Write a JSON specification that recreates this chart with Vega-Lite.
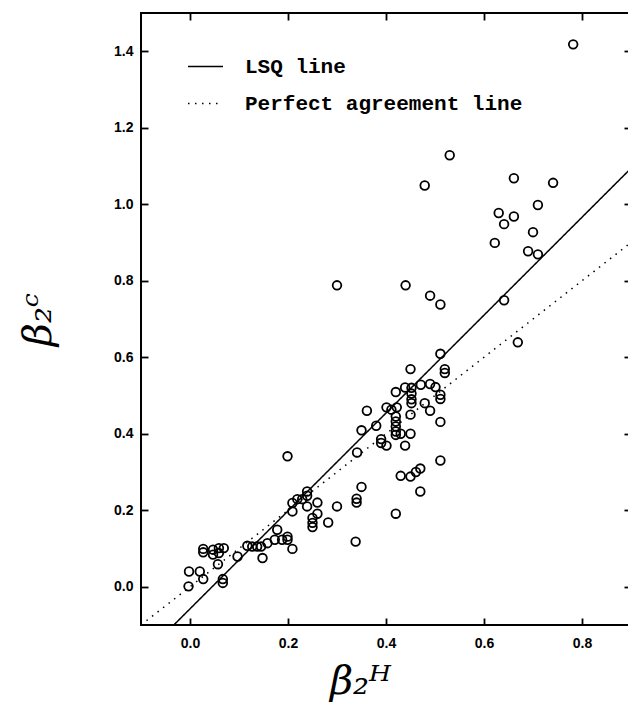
{
  "$schema": "https://vega.github.io/schema/vega-lite/v6.json",
  "autosize": "none",
  "width": 490,
  "height": 612,
  "padding": {"left": 141, "top": 13, "right": 0, "bottom": 88},
  "background": "white",
  "config": {
    "view": {"stroke": "black", "strokeWidth": 2},
    "axis": {
      "grid": false,
      "domain": false,
      "ticks": true,
      "tickColor": "black",
      "tickOpacity": 1,
      "tickWidth": 1.8,
      "tickSize": 7,
      "offset": -7,
      "labelColor": "black",
      "labelFont": "Liberation Sans",
      "labelFontWeight": "bold",
      "labelFontSize": 14,
      "titleColor": "black"
    }
  },
  "layer": [
    {
      "data": {"values": [
        {"h": -0.003, "c": 0.001}, {"h": -0.002, "c": 0.040}, {"h": 0.020, "c": 0.040}, {"h": 0.027, "c": 0.020},
        {"h": 0.027, "c": 0.099}, {"h": 0.027, "c": 0.090}, {"h": 0.047, "c": 0.097}, {"h": 0.047, "c": 0.084},
        {"h": 0.059, "c": 0.101}, {"h": 0.069, "c": 0.101}, {"h": 0.059, "c": 0.088}, {"h": 0.057, "c": 0.059},
        {"h": 0.067, "c": 0.020}, {"h": 0.067, "c": 0.010}, {"h": 0.097, "c": 0.079}, {"h": 0.117, "c": 0.107},
        {"h": 0.127, "c": 0.105}, {"h": 0.137, "c": 0.105}, {"h": 0.145, "c": 0.105}, {"h": 0.148, "c": 0.075},
        {"h": 0.158, "c": 0.114}, {"h": 0.173, "c": 0.123}, {"h": 0.178, "c": 0.149}, {"h": 0.188, "c": 0.123},
        {"h": 0.199, "c": 0.131}, {"h": 0.199, "c": 0.123}, {"h": 0.209, "c": 0.099}, {"h": 0.199, "c": 0.341},
        {"h": 0.209, "c": 0.219}, {"h": 0.209, "c": 0.197}, {"h": 0.219, "c": 0.229}, {"h": 0.229, "c": 0.229},
        {"h": 0.239, "c": 0.249}, {"h": 0.239, "c": 0.238}, {"h": 0.239, "c": 0.210}, {"h": 0.250, "c": 0.180},
        {"h": 0.250, "c": 0.167}, {"h": 0.250, "c": 0.156}, {"h": 0.260, "c": 0.220}, {"h": 0.260, "c": 0.191},
        {"h": 0.282, "c": 0.168}, {"h": 0.300, "c": 0.210}, {"h": 0.300, "c": 0.788}, {"h": 0.338, "c": 0.118},
        {"h": 0.340, "c": 0.230}, {"h": 0.340, "c": 0.220}, {"h": 0.341, "c": 0.351}, {"h": 0.350, "c": 0.261},
        {"h": 0.350, "c": 0.409}, {"h": 0.361, "c": 0.460}, {"h": 0.380, "c": 0.421}, {"h": 0.390, "c": 0.386},
        {"h": 0.390, "c": 0.376}, {"h": 0.401, "c": 0.369}, {"h": 0.401, "c": 0.469}, {"h": 0.411, "c": 0.463},
        {"h": 0.420, "c": 0.191}, {"h": 0.420, "c": 0.509}, {"h": 0.420, "c": 0.445}, {"h": 0.420, "c": 0.432},
        {"h": 0.420, "c": 0.419}, {"h": 0.420, "c": 0.406}, {"h": 0.420, "c": 0.397}, {"h": 0.422, "c": 0.469},
        {"h": 0.430, "c": 0.400}, {"h": 0.430, "c": 0.290}, {"h": 0.439, "c": 0.521}, {"h": 0.439, "c": 0.369},
        {"h": 0.440, "c": 0.788}, {"h": 0.450, "c": 0.569}, {"h": 0.450, "c": 0.450}, {"h": 0.450, "c": 0.400},
        {"h": 0.450, "c": 0.288}, {"h": 0.452, "c": 0.520}, {"h": 0.452, "c": 0.505}, {"h": 0.452, "c": 0.490},
        {"h": 0.452, "c": 0.480}, {"h": 0.461, "c": 0.300}, {"h": 0.470, "c": 0.309}, {"h": 0.470, "c": 0.249},
        {"h": 0.471, "c": 0.528}, {"h": 0.479, "c": 0.480}, {"h": 0.479, "c": 1.049}, {"h": 0.490, "c": 0.530},
        {"h": 0.490, "c": 0.460}, {"h": 0.490, "c": 0.761}, {"h": 0.501, "c": 0.522}, {"h": 0.511, "c": 0.738},
        {"h": 0.511, "c": 0.609}, {"h": 0.511, "c": 0.502}, {"h": 0.511, "c": 0.491}, {"h": 0.511, "c": 0.431},
        {"h": 0.511, "c": 0.330}, {"h": 0.520, "c": 0.569}, {"h": 0.520, "c": 0.559}, {"h": 0.530, "c": 1.128},
        {"h": 0.622, "c": 0.899}, {"h": 0.630, "c": 0.977}, {"h": 0.641, "c": 0.948}, {"h": 0.641, "c": 0.749},
        {"h": 0.661, "c": 1.068}, {"h": 0.661, "c": 0.968}, {"h": 0.669, "c": 0.639}, {"h": 0.690, "c": 0.877},
        {"h": 0.700, "c": 0.927}, {"h": 0.710, "c": 0.998}, {"h": 0.710, "c": 0.869}, {"h": 0.741, "c": 1.056},
        {"h": 0.782, "c": 1.418}
      ]},
      "mark": {"type": "point", "shape": "circle", "filled": false, "color": "black", "size": 75, "strokeWidth": 1.8, "opacity": 1},
      "encoding": {
        "x": {
          "field": "h", "type": "quantitative",
          "scale": {"domain": [-0.1, 0.9], "nice": false, "zero": false},
          "axis": {
            "orient": "bottom", "values": [0, 0.2, 0.4, 0.6, 0.8], "format": ".1f",
            "labelPadding": 11,
            "title": "β₂ᴴ", "titleFont": "DejaVu Serif", "titleFontSize": 40, "titleFontWeight": "normal", "titleFontStyle": "italic",
            "titleX": 219, "titleY": 75, "titleAlign": "center", "titleBaseline": "alphabetic"
          }
        },
        "y": {
          "field": "c", "type": "quantitative",
          "scale": {"domain": [-0.1, 1.5], "nice": false, "zero": false},
          "axis": {
            "orient": "left", "values": [0, 0.2, 0.4, 0.6, 0.8, 1.0, 1.2, 1.4], "format": ".1f",
            "labelPadding": 8,
            "title": "β₂ᶜ", "titleFont": "DejaVu Serif", "titleFontSize": 40, "titleFontWeight": "normal", "titleFontStyle": "italic",
            "titleX": -98, "titleY": 306, "titleAngle": -90, "titleAlign": "center", "titleBaseline": "alphabetic"
          }
        }
      }
    },
    {
      "data": {"values": [
        {"series": "LSQ line", "h": -0.033, "c": -0.1},
        {"series": "LSQ line", "h": 0.9, "c": 1.094},
        {"series": "Perfect agreement line", "h": -0.1, "c": -0.1},
        {"series": "Perfect agreement line", "h": 0.9, "c": 0.9}
      ]},
      "mark": {"type": "line", "color": "black", "strokeWidth": 1.5, "clip": true, "strokeCap": "butt"},
      "encoding": {
        "x": {
          "field": "h", "type": "quantitative",
          "scale": {"domain": [-0.1, 0.9], "nice": false, "zero": false},
          "axis": {"orient": "top", "values": [0, 0.2, 0.4, 0.6, 0.8], "labels": false, "title": null}
        },
        "y": {
          "field": "c", "type": "quantitative",
          "scale": {"domain": [-0.1, 1.5], "nice": false, "zero": false},
          "axis": {"orient": "right", "values": [0, 0.2, 0.4, 0.6, 0.8, 1.0, 1.2, 1.4], "labels": false, "title": null}
        },
        "strokeDash": {
          "field": "series", "type": "nominal",
          "scale": {"domain": ["LSQ line", "Perfect agreement line"], "range": [[1, 0], [1.5, 5.5]]},
          "legend": {
            "orient": "none", "legendX": 46, "legendY": 35, "title": null, "padding": 0,
            "symbolType": "stroke", "symbolSize": 1225, "symbolStrokeWidth": 1.6, "symbolStrokeColor": "black",
            "labelFont": "Liberation Mono", "labelFontWeight": "bold", "labelFontSize": 21, "labelColor": "black",
            "labelOffset": 21, "rowPadding": 8, "labelLimit": 400
          }
        }
      }
    }
  ],
  "resolve": {"axis": {"x": "independent", "y": "independent"}}
}
